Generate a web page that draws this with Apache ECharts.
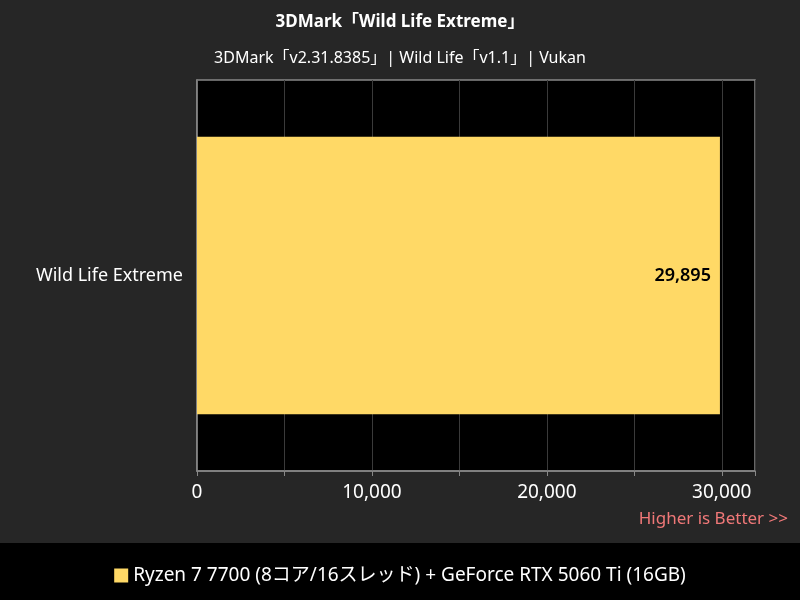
<!DOCTYPE html>
<html><head><meta charset="utf-8">
<script src="https://cdn.jsdelivr.net/npm/echarts@6/dist/echarts.min.js"></script>
<style>html,body{margin:0;padding:0;background:#000}#c{width:800px;height:600px}</style>
</head><body><div id="c"></div>
<script>
const categories = ['Wild Life Extreme'];
const seriesName = 'Ryzen 7 7700 (8コア/16スレッド) + GeForce RTX 5060 Ti (16GB)';
const values = [29895];
const FONT = '"Noto Sans","Noto Sans CJK JP",sans-serif';
const chart = echarts.init(document.getElementById('c'));
chart.setOption({
  backgroundColor: '#000',
  textStyle: {fontFamily: FONT},
  graphic: [
    {type:'rect', left:0, top:0, shape:{width:800, height:543}, style:{fill:'#262626'}, z:-10},
    {type:'text', right:12, top:511, style:{text:'Higher is Better >>', fill:'#f07878', font:'17px ' + FONT}}
  ],
  title: [
    {text:'3DMark「Wild Life Extreme」', left:'center', top:9, textStyle:{color:'#fff', fontSize:17, fontWeight:'bold', fontFamily:FONT}},
    {text:'3DMark「v2.31.8385」| Wild Life「v1.1」| Vukan', left:'center', top:45, textStyle:{color:'#fff', fontSize:16, fontWeight:'normal', fontFamily:FONT}}
  ],
  legend: {bottom:10, left:'center', itemWidth:14, itemHeight:14, icon:'rect',
    textStyle:{color:'#fff', fontSize:19, fontFamily:FONT}, data:[seriesName]},
  grid: {left:197, right:45, top:80, bottom:129, show:true, backgroundColor:'#000', borderColor:'#888', borderWidth:1.5},
  xAxis: {type:'value', min:0, max:31900, interval:5000,
    axisLine:{show:true, lineStyle:{color:'#888', width:1.5}},
    axisTick:{show:true, length:5, lineStyle:{color:'#888'}},
    axisLabel:{color:'#fff', fontSize:19, margin:12,
      formatter:v=>v % 10000 === 0 ? v.toLocaleString('en-US') : ''},
    splitLine:{show:true, lineStyle:{color:'#3a3a3a', width:1}}},
  yAxis: {type:'category', data:categories,
    axisLine:{show:true, lineStyle:{color:'#888', width:1.5}}, axisTick:{show:false},
    axisLabel:{color:'#fff', fontSize:18, margin:14}},
  series: [{type:'bar', name:seriesName, data:values, barWidth:'71%',
    itemStyle:{color:'#ffd966'},
    label:{show:true, position:'insideRight', color:'#000', fontSize:18, fontWeight:600, offset:[-4,0],
      formatter:p=>p.value.toLocaleString('en-US')}}]
});
</script></body></html>
